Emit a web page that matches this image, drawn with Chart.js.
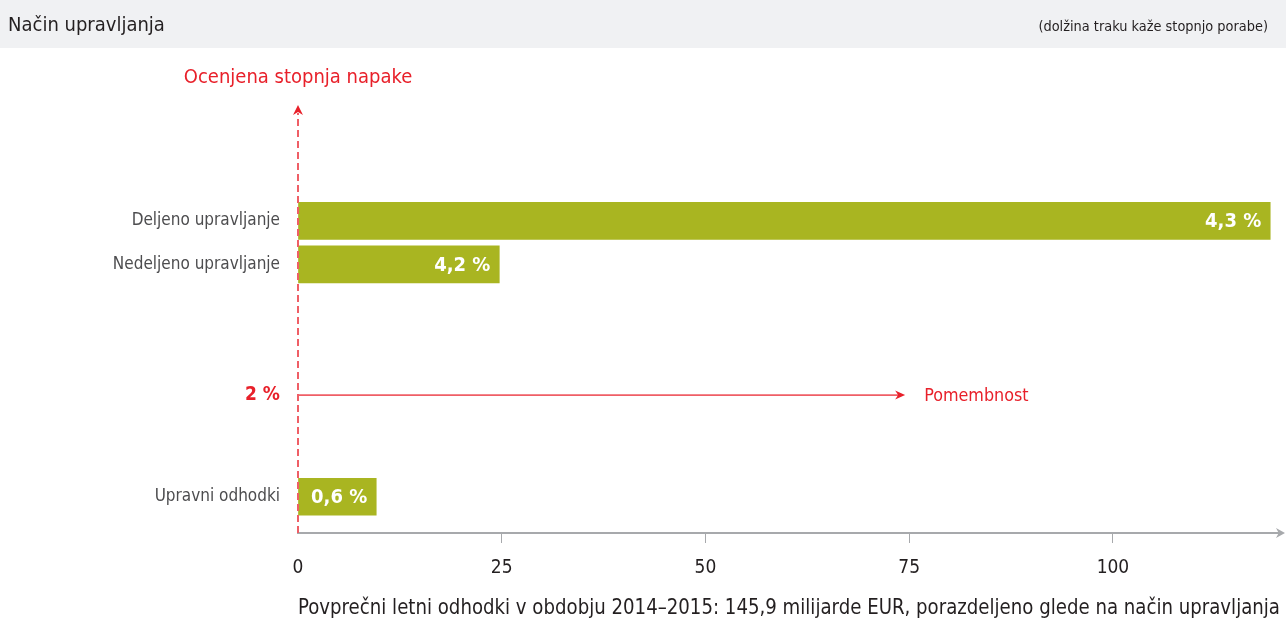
<!DOCTYPE html>
<html>
<head>
<meta charset="utf-8">
<script src="https://cdn.jsdelivr.net/npm/chart.js@4"></script>
<style>
  html, body { margin: 0; padding: 0; background: #ffffff; }
  #wrap { width: 1286px; height: 621px; position: relative; }
</style>
</head>
<body>
<div id="wrap"><canvas id="c"></canvas></div>
<script>
// ---------- data ----------
const headerTitle = 'Način upravljanja';
const headerNote = '(dolžina traku kaže stopnjo porabe)';
const yAxisTitle = 'Ocenjena stopnja napake';
const xAxisTitle = 'Povprečni letni odhodki v obdobju 2014–2015: 145,9 milijarde EUR, porazdeljeno glede na način upravljanja';
const categories = ['Deljeno upravljanje', 'Nedeljeno upravljanje', 'Upravni odhodki'];
const spending = [119.3, 24.7, 9.6];           // billion EUR (bar length)
const errorRates = ['4,3 %', '4,2 %', '0,6 %']; // estimated error rate
const thresholdLabel = '2 %';
const thresholdArrowLabel = 'Pomembnost';
const xTicks = [0, 25, 50, 75, 100];

// ---------- layout (row slots on the vertical axis) ----------
const totalSlots = 29;
const categorySlots = [7, 10, 26];
const thresholdSlot = 19;

const FONT = "'Liberation Sans Narrow', 'DejaVu Sans Condensed', 'Roboto', sans-serif";
const GREEN = '#A9B521';
const RED = '#E8202A';
const RED_LIGHT = '#EF5E66';

const slotLabels = new Array(totalSlots).fill('');
const slotValues = new Array(totalSlots).fill(null);
const slotRates = new Array(totalSlots).fill(null);
categories.forEach((c, i) => {
  slotLabels[categorySlots[i]] = c;
  slotValues[categorySlots[i]] = spending[i];
  slotRates[categorySlots[i]] = errorRates[i];
});
slotLabels[thresholdSlot] = thresholdLabel;

function arrowHead(ctx, tipX, tipY, dir, len, half, color) {
  ctx.save();
  ctx.fillStyle = color;
  ctx.beginPath();
  if (dir === 'up') {
    ctx.moveTo(tipX, tipY);
    ctx.lineTo(tipX - half, tipY + len);
    ctx.lineTo(tipX, tipY + len * 0.7);
    ctx.lineTo(tipX + half, tipY + len);
  } else {
    ctx.moveTo(tipX, tipY);
    ctx.lineTo(tipX - len, tipY - half);
    ctx.lineTo(tipX - len * 0.7, tipY);
    ctx.lineTo(tipX - len, tipY + half);
  }
  ctx.closePath();
  ctx.fill();
  ctx.restore();
}

const overlay = {
  id: 'overlay',
  beforeDraw(chart) {
    const { ctx, width } = chart;
    ctx.save();
    ctx.fillStyle = '#F0F1F3';
    ctx.fillRect(0, 0, width, 48);
    ctx.fillStyle = '#231F20';
    ctx.textBaseline = 'middle';
    ctx.textAlign = 'left';
    ctx.font = `20px ${FONT}`;
    ctx.fillText(headerTitle, 8, 26);
    ctx.font = `14.4px ${FONT}`;
    ctx.textAlign = 'right';
    ctx.fillText(headerNote, width - 18, 27);
    ctx.restore();
  },
  afterDraw(chart) {
    const { ctx, chartArea, scales } = chart;
    const x = scales.x, y = scales.y;
    const x0 = x.getPixelForValue(0);
    ctx.save();
    // x axis arrow extension
    ctx.strokeStyle = '#A7A9AC';
    ctx.lineWidth = 2;
    ctx.beginPath();
    ctx.moveTo(chartArea.right - 1, chartArea.bottom);
    ctx.lineTo(chart.width - 4, chartArea.bottom);
    ctx.stroke();
    arrowHead(ctx, chart.width - 1, chartArea.bottom, 'right', 9, 5, '#A7A9AC');

    // bar value labels
    const meta = chart.getDatasetMeta(0);
    ctx.fillStyle = '#ffffff';
    ctx.font = `bold 20px ${FONT}`;
    ctx.textAlign = 'right';
    ctx.textBaseline = 'middle';
    meta.data.forEach((bar, i) => {
      if (slotRates[i]) ctx.fillText(slotRates[i], bar.x - 9, bar.y + 1);
    });

    // vertical dashed arrow (error rate)
    const topY = chartArea.top - 5;
    ctx.strokeStyle = RED_LIGHT;
    ctx.lineWidth = 2;
    ctx.setLineDash([7, 4]);
    ctx.beginPath();
    ctx.moveTo(x0, chartArea.bottom);
    ctx.lineTo(x0, topY + 6);
    ctx.stroke();
    ctx.setLineDash([]);
    arrowHead(ctx, x0, topY - 2, 'up', 10, 5, RED);

    ctx.fillStyle = RED;
    ctx.font = `20px ${FONT}`;
    ctx.textAlign = 'center';
    ctx.textBaseline = 'middle';
    ctx.fillText(yAxisTitle, x0, chartArea.top - 34);

    // threshold arrow (materiality)
    const ty = y.getPixelForValue(thresholdSlot);
    const endX = x.getPixelForValue(74.5);
    ctx.strokeStyle = RED_LIGHT;
    ctx.lineWidth = 1.6;
    ctx.beginPath();
    ctx.moveTo(x0, ty);
    ctx.lineTo(endX - 6, ty);
    ctx.stroke();
    arrowHead(ctx, endX, ty, 'right', 10, 4.5, RED);
    ctx.fillStyle = RED;
    ctx.font = `17.8px ${FONT}`;
    ctx.textAlign = 'left';
    ctx.fillText(thresholdArrowLabel, endX + 19, ty + 1);
    ctx.restore();
  }
};

new Chart(document.getElementById('c'), {
  type: 'bar',
  data: {
    labels: slotLabels,
    datasets: [{
      data: slotValues,
      backgroundColor: GREEN,
      borderWidth: 0,
      barThickness: 37
    }]
  },
  options: {
    indexAxis: 'y',
    responsive: true,
    maintainAspectRatio: false,
    animation: false,
    layout: { padding: { top: 112, right: 6, left: 0, bottom: 0 } },
    plugins: { legend: { display: false }, tooltip: { enabled: false } },
    scales: {
      x: {
        type: 'linear',
        min: 0,
        max: 120.5,
        afterFit(scale) { scale.height = 88; },
        afterBuildTicks(scale) { scale.ticks = xTicks.map(v => ({ value: v })); },
        border: { display: true, color: '#A7A9AC', width: 2 },
        grid: {
          display: true,
          drawOnChartArea: false,
          drawTicks: true,
          tickLength: 10,
          color: ctx => (ctx.tick && ctx.tick.value === 0) ? 'rgba(0,0,0,0)' : '#A7A9AC',
          lineWidth: 1
        },
        ticks: {
          color: '#231F20',
          font: { family: FONT, size: 19 },
          padding: 14
        },
        title: {
          display: true,
          text: xAxisTitle,
          color: '#231F20',
          font: { family: FONT, size: 21.6 },
          padding: { top: 4, bottom: 0 }
        }
      },
      y: {
        type: 'category',
        offset: true,
        afterFit(scale) { scale.width = 298; },
        border: { display: false },
        grid: { display: false, drawTicks: false },
        ticks: {
          autoSkip: false,
          padding: 18,
          color: ctx => ctx.index === thresholdSlot ? RED : '#4D4D4F',
          font: ctx => ctx.index === thresholdSlot
            ? { family: FONT, size: 19, weight: 'bold' }
            : { family: FONT, size: 17 }
        }
      }
    }
  },
  plugins: [overlay]
});
</script>
</body>
</html>
